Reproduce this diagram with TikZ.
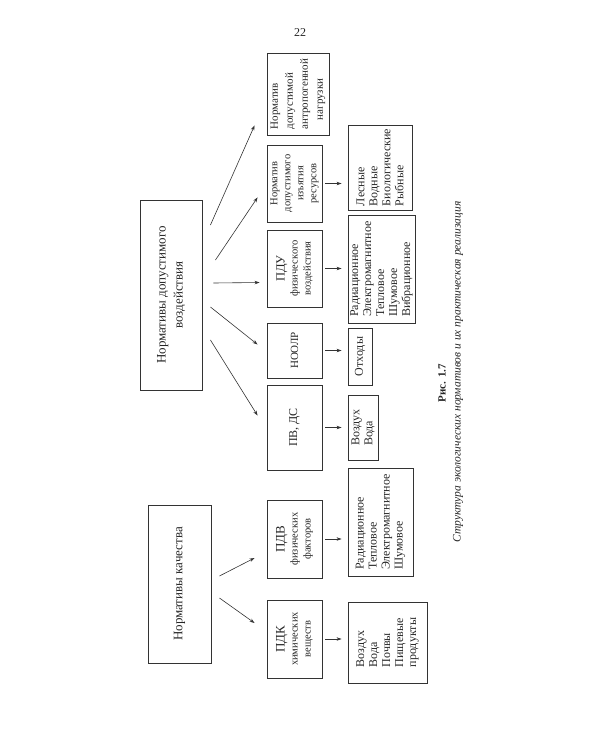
\documentclass[tikz,border=0pt]{standalone}
\usepackage{fontspec}
\setmainfont{Liberation Serif}
\usetikzlibrary{arrows.meta,calc}
\begin{document}
\begin{tikzpicture}[x=1pt,y=-1pt,
  every node/.style={text=black!85},
  box/.style={draw=black!80, line width=0.9pt, rotate=90, inner sep=1pt, align=center},
  bigtxt/.style={font=\fontsize{13}{17}\selectfont},
  midtxt/.style={font=\fontsize{10.5}{13}\selectfont},
  listtxt/.style={font=\fontsize{12}{13}\selectfont, align=left},
  arr/.style={draw=black!80, line width=0.6pt, -{Stealth[length=5pt,width=3.5pt]}},
]
\useasboundingbox (0,0) rectangle (600,750);

% page number
\node[font=\fontsize{12}{14}\selectfont] (pg) at (300,33) {22};

% top-level boxes
\node[box, bigtxt, minimum width=190pt, minimum height=62pt] (nd) at (171,295)
  {Нормативы допустимого\\воздействия};
\node[box, bigtxt, minimum width=158pt, minimum height=63pt] (nk) at (179.5,584)
  {Нормативы качества};

% second row
\node[box, font=\fontsize{11}{15}\selectfont, align=left, minimum width=82pt, minimum height=62pt] (A) at (298,94)
  {Норматив\\допустимой\\антропогенной\\\hspace*{9pt}нагрузки};
\node[box, midtxt, minimum width=77pt, minimum height=55pt] (B) at (294.5,183.5)
  {Норматив\\допустимого\\изъятия\\ресурсов};
\node[box, midtxt, minimum width=77pt, minimum height=55pt] (C) at (294.5,268.5)
  {{\fontsize{12.5}{13}\selectfont ПДУ}\\физического\\воздействия};
\node[box, font=\fontsize{11}{13}\selectfont, minimum width=55pt, minimum height=55pt] (D) at (294.5,350.5)
  {НООЛР};
\node[box, font=\fontsize{12}{13}\selectfont, minimum width=85pt, minimum height=55pt] (E) at (294.5,427.5)
  {ПВ, ДС};
\node[box, midtxt, minimum width=78pt, minimum height=55pt] (PDV) at (294.5,539)
  {{\fontsize{13}{13}\selectfont ПДВ}\\физических\\факторов};
\node[box, midtxt, minimum width=78pt, minimum height=55pt] (PDK) at (294.5,639)
  {{\fontsize{13}{13}\selectfont ПДК}\\химических\\веществ};

% lists
\node[box, listtxt, minimum width=85pt, minimum height=64pt] (LB) at (380,167.5)
  {Лесные\\Водные\\Биологические\\Рыбные};
\node[box, listtxt, minimum width=108pt, minimum height=67pt] (LC) at (381.5,269)
  {Радиационное\\Электромагнитное\\Тепловое\\Шумовое\\Вибрационное};
\node[box, listtxt, minimum width=57pt, minimum height=24pt] (LD) at (360,356.5)
  {Отходы};
\node[box, listtxt, minimum width=65pt, minimum height=30pt] (LE) at (363,427.5)
  {Воздух\\Вода};
\node[box, listtxt, minimum width=108pt, minimum height=65pt] (LPDV) at (380.5,522)
  {Радиационное\\Тепловое\\Электромагнитное\\Шумовое};
\node[box, listtxt, minimum width=81pt, minimum height=79pt] (LPDK) at (387.5,642.5)
  {Воздух\\Вода\\Почвы\\Пищевые\\продукты};

% caption
\node[rotate=90, font=\bfseries\fontsize{11}{13}\selectfont] (cap1) at (442,383) {Рис. 1.7};
\node[rotate=90, font=\itshape\fontsize{11.5}{13}\selectfont] (cap2) at (458,372)
  {Структура экологических нормативов и их практическая реализация};

% arrows from "Нормативы допустимого воздействия"
\draw[arr] ($(nd.south)+(8,-70)$) -- ($(A.north west)+(-12,-10)$);
\draw[arr] ($(nd.south)+(13,-35)$) -- ($(B.north west)+(-9,-25)$);
\draw[arr] ($(nd.south)+(11,-12)$) -- ($(C.north)+(-7,14)$);
\draw[arr] ($(nd.south)+(8,12)$) -- ($(D.north)+(-9,-6)$);
\draw[arr] ($(nd.south)+(8,45)$) -- ($(E.north)+(-9,-12)$);

% arrows from "Нормативы качества"
\draw[arr] ($(nk.south)+(8,-8)$) -- ($(PDV.north)+(-12,19)$);
\draw[arr] ($(nk.south)+(8,14)$) -- ($(PDK.north)+(-12,-16)$);

% arrows to lists
\foreach \s/\t in {B/LB, C/LC, D/LD, E/LE, PDV/LPDV, PDK/LPDK}{
  \draw[arr, shorten <=3pt, shorten >=6pt] (\s.south) -- (\s.south -| \t.north);
}
\end{tikzpicture}
\end{document}
